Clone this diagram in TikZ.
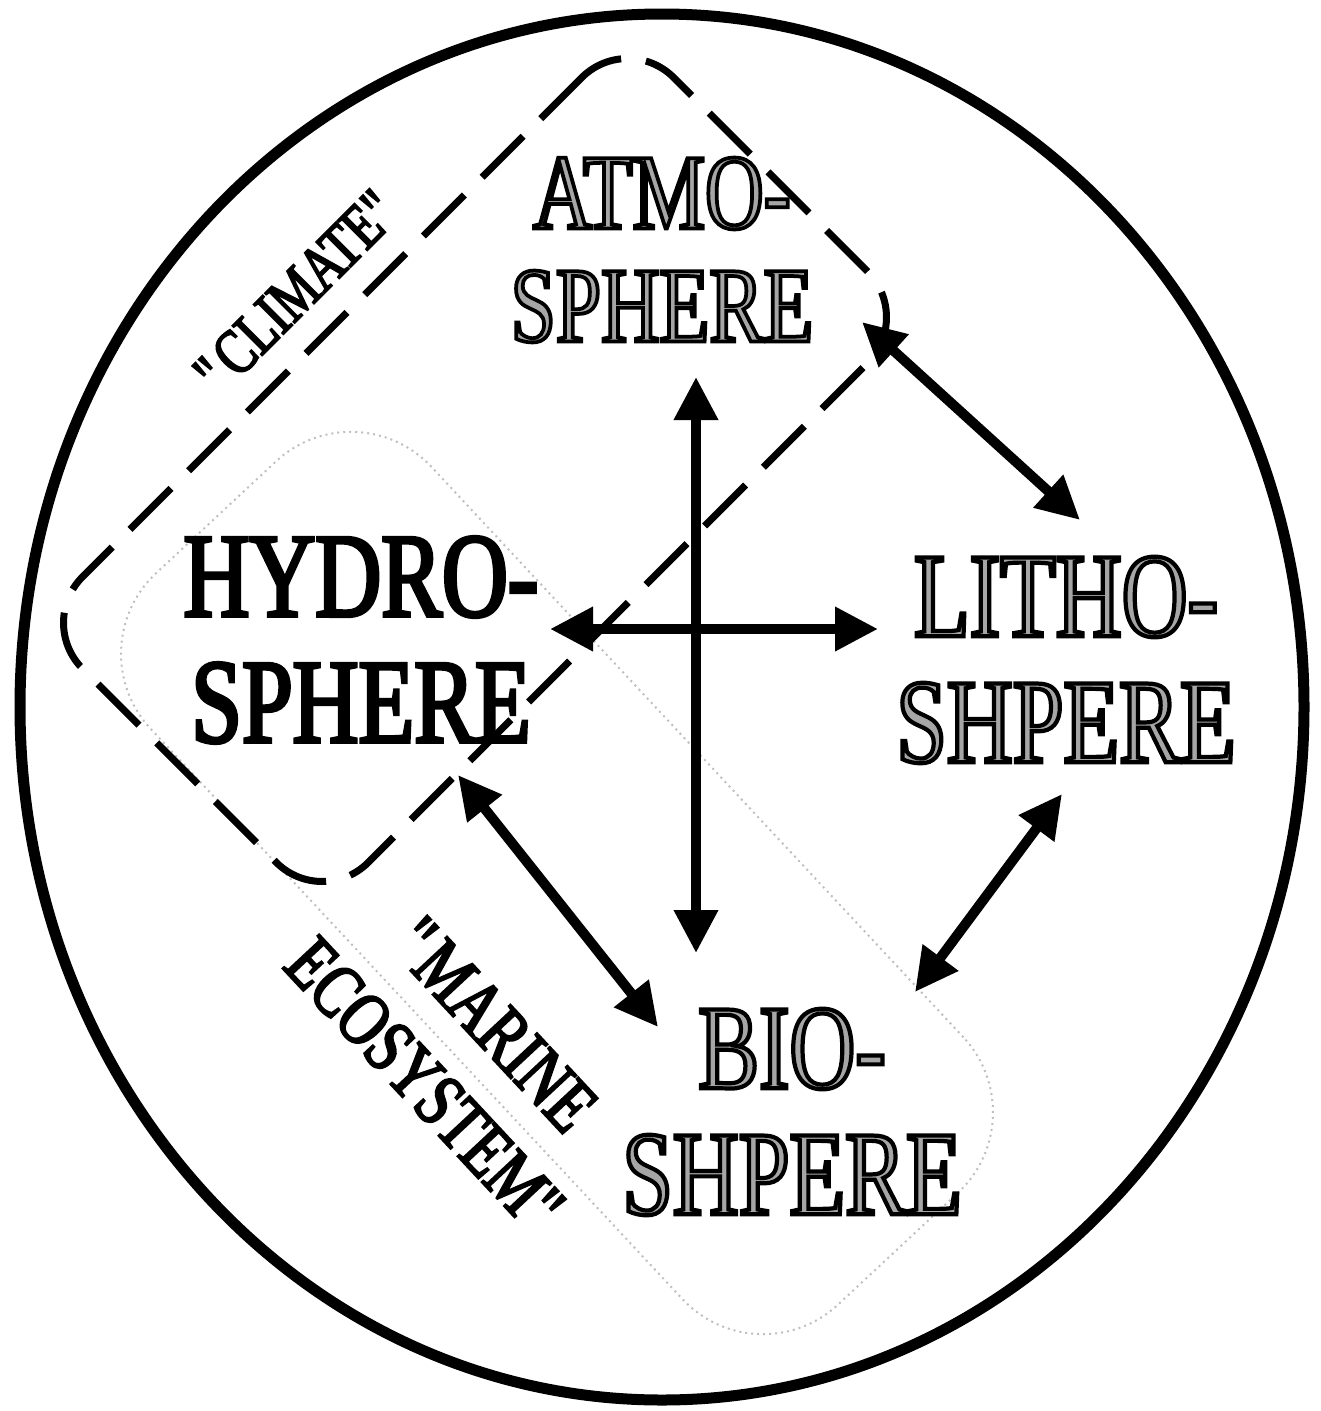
\documentclass[tikz,border=0pt]{standalone}
\usepackage{fontspec}
\usetikzlibrary{arrows.meta}
\setmainfont{Liberation Serif}[FakeStretch=0.76]
\newfontfamily\heavyfont{Liberation Serif}[FakeStretch=0.76,FakeBold=3]
\newfontfamily\hollowfont{Liberation Serif}[FakeStretch=0.76,FakeBold=3.5]
% grey letters with a black rim
\newcommand{\hollow}[1]{{\color{black!35}\special{pdf:literal direct 0 G}#1}}

\begin{document}
\begin{tikzpicture}[x=1pt,y=-1pt,>={Triangle[length=43pt,width=42pt]},
  spherelabel/.style={align=center,inner sep=0pt,font=\hollowfont\fontsize{120}{126}\selectfont},
  quotelabel/.style={align=center,inner sep=0pt,font=\heavyfont\fontsize{76}{92}\selectfont},
  link/.style={<->,line width=10pt}]
\useasboundingbox (0,0) rectangle (1320,1411);
\draw[line width=11pt] (662,707) ellipse [x radius=642, y radius=693];

% the two groupings
\node[draw=black!25,line width=2pt,dash pattern=on 2pt off 4pt,rounded corners=110pt,
  minimum width=1000pt,minimum height=384pt,rotate=-47] (marine) at (557,883) {};
\node[draw,line width=7pt,dash pattern=on 58pt off 25pt,rounded corners=65pt,
  minimum width=836pt,minimum height=404pt,rotate=45] (climate) at (475,470) {};

% spheres
\node[spherelabel,font=\hollowfont\fontsize{107}{113}\selectfont] (atmo) at (662,250)
  {\hollow{ATMO-}\\\hollow{SPHERE}};
\node[spherelabel,font=\heavyfont\fontsize{120}{126}\selectfont] (hydro) at (361,640) {HYDRO-\\SPHERE};
\node[spherelabel] (litho) at (1066,660) {\hollow{LITHO-}\\\hollow{SHPERE}};
\node[spherelabel] (bio) at (792,1112) {\hollow{BIO-}\\\hollow{SHPERE}};

\node[quotelabel,font=\heavyfont\fontsize{64}{70}\selectfont,rotate=45] (climlabel) at (298,290)
  {\textquotedbl CLIMATE\textquotedbl};
\node[quotelabel,rotate=-47] (marlabel) at (461,1056) {\textquotedbl MARINE\\ECOSYSTEM\textquotedbl};

% arrow ends
\coordinate (atmo-s) at (696,377);
\coordinate (bio-n) at (696,953);
\coordinate (hydro-e) at (550,629);
\coordinate (litho-w) at (878,629);
\coordinate (atmo-e) at (862,322);
\coordinate (litho-n) at (1080,520);
\coordinate (litho-s) at (1062,794);
\coordinate (bio-e) at (915,992);
\coordinate (hydro-s) at (458,775);
\coordinate (bio-w) at (658,1027);

\draw[link] (atmo-s) -- (bio-n);
\draw[link] (hydro-e) -- (litho-w);
\draw[link] (atmo-e) -- (litho-n);
\draw[link] (litho-s) -- (bio-e);
\draw[link] (hydro-s) -- (bio-w);
\end{tikzpicture}
\end{document}
